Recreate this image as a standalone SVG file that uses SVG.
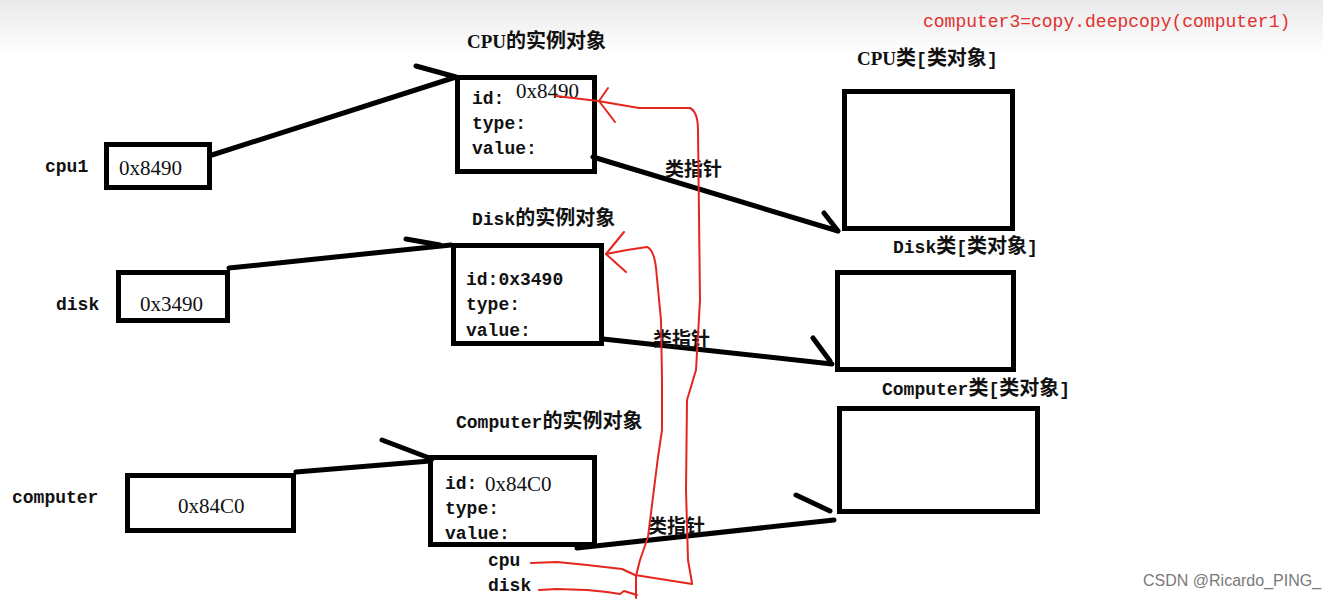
<svg xmlns="http://www.w3.org/2000/svg" width="1323" height="602" viewBox="0 0 1323 602">
<defs>
<linearGradient id="bg" x1="0" y1="0" x2="0" y2="1">
<stop offset="0" stop-color="#e9e9e9"/>
<stop offset="1" stop-color="#ffffff"/>
</linearGradient>
</defs>
<style>
.box{fill:#fff;stroke:#000;stroke-width:5}
.lbl{font-family:"Liberation Mono","Noto Sans CJK SC",monospace;font-size:18px;font-weight:bold;fill:#111}
.cjk{font-family:"Liberation Mono","Noto Sans CJK SC",monospace;font-size:18px;font-weight:bold;fill:#111}
.c{font-family:"Noto Sans CJK SC",sans-serif;font-size:20px}
.num{font-family:"Liberation Serif","Noto Sans CJK SC",serif;font-size:21px;fill:#111}
.ptr{font-family:"Noto Sans CJK SC",sans-serif;font-size:19px;font-weight:bold;fill:#111}
.conn{fill:none;stroke:#000;stroke-width:5;stroke-linecap:round}
.red{fill:none;stroke:#e5261f;stroke-width:2;stroke-linejoin:round;stroke-linecap:round}
</style>
<rect x="0" y="0" width="1323" height="602" fill="#fff"/>
<rect x="0" y="0" width="1323" height="55" fill="url(#bg)"/>
<text x="923" y="27" font-family="Liberation Mono,monospace" font-size="18" fill="#e0302e">computer3=copy.deepcopy(computer1)</text>

<g id="var-cpu1">
<text class="lbl" x="45" y="172">cpu1</text>
<rect class="box" x="106.5" y="144.5" width="103" height="43"/>
<text class="num" x="119" y="175">0x8490</text>
</g>
<g id="var-disk">
<text class="lbl" x="56" y="310">disk</text>
<rect class="box" x="118.5" y="272.5" width="109" height="48"/>
<text class="num" x="140" y="311">0x3490</text>
</g>
<g id="var-computer">
<text class="lbl" x="12" y="503">computer</text>
<rect class="box" x="127.5" y="475.5" width="166" height="55"/>
<text class="num" x="178" y="513">0x84C0</text>
</g>

<g id="cpu-instance">
<text class="cjk" x="467" y="48"><tspan font-family="Liberation Serif,serif" font-size="19">CPU</tspan><tspan class="c">的实例对象</tspan></text>
<rect class="box" x="457.5" y="77.5" width="137" height="94"/>
<text class="lbl" x="472" y="104">id:</text>
<text class="num" x="516" y="98">0x8490</text>
<text class="lbl" x="472" y="129">type:</text>
<text class="lbl" x="472" y="154">value:</text>
</g>
<g id="disk-instance">
<text class="cjk" x="472" y="225">Disk<tspan class="c">的实例对象</tspan></text>
<rect class="box" x="453.5" y="245.5" width="148" height="98"/>
<text class="lbl" x="466" y="285">id:0x3490</text>
<text class="lbl" x="466" y="310">type:</text>
<text class="lbl" x="466" y="336">value:</text>
</g>
<g id="computer-instance">
<text class="cjk" x="456" y="428">Computer<tspan class="c">的实例对象</tspan></text>
<rect class="box" x="430.5" y="457.5" width="164" height="87"/>
<text class="lbl" x="445" y="489">id:</text>
<text class="num" x="485" y="491">0x84C0</text>
<text class="lbl" x="445" y="514">type:</text>
<text class="lbl" x="445" y="539">value:</text>
<text class="lbl" x="488" y="566">cpu</text>
<text class="lbl" x="488" y="591">disk</text>
</g>

<g id="cpu-class">
<text class="cjk" x="857" y="65"><tspan font-family="Liberation Serif,serif" font-size="19">CPU</tspan><tspan class="c">类</tspan>[<tspan class="c">类对象</tspan>]</text>
<rect class="box" x="844.5" y="91.5" width="168" height="137"/>
</g>
<g id="disk-class">
<text class="cjk" x="893" y="253">Disk<tspan class="c">类</tspan>[<tspan class="c">类对象</tspan>]</text>
<rect class="box" x="837.5" y="272.5" width="176" height="97"/>
</g>
<g id="computer-class">
<text class="cjk" x="882" y="395">Computer<tspan class="c">类</tspan>[<tspan class="c">类对象</tspan>]</text>
<rect class="box" x="839.5" y="408.5" width="198" height="103"/>
</g>

<g id="connectors">
<path class="conn" d="M212 155 L456 77 M416 66 L456 77"/>
<path class="conn" d="M229 268 L451 245 M406 239 L440 245"/>
<path class="conn" d="M296 472 L430 461 M382 440 L432 459"/>
<path class="conn" d="M593 157 L838 231 M824 213 L838 231"/>
<text class="ptr" x="665" y="176">类指针</text>
<path class="conn" d="M603 339 L832 364 M813 338 L830 361"/>
<text class="ptr" x="653" y="346">类指针</text>
<path class="conn" d="M577 548 L834 520 M796 495 L830 511"/>
<text class="ptr" x="648" y="533">类指针</text>
</g>

<g id="deepcopy-marks">
<path class="red" d="M556 96 L598 101 L639 108 L690 108 Q698 112 698 130 L700 300 L696 370 L687 400 L686 490 L688 560 L692 583"/>
<path class="red" d="M608 88 L599 101 L615 122"/>
<path class="red" d="M531 563 L557 562 L587 565 L622 569 L635 575 L692 584"/>
<path class="red" d="M606 254 L627 250 L647 247 Q654 250 656 268 L661 320 L662 380 L662 430 L658 457 L648 537 L640 560 L636 576 L636 598"/>
<path class="red" d="M624 232 L606 254 L626 272"/>
<path class="red" d="M539 590 L557 589 L587 590 L607 592 L620 594 L624 591 L637 595"/>
</g>

<text x="1143" y="586" font-family="Liberation Sans Narrow,Liberation Sans,sans-serif" font-size="16" fill="#7a7a7a">CSDN @Ricardo_PING_</text>
</svg>
